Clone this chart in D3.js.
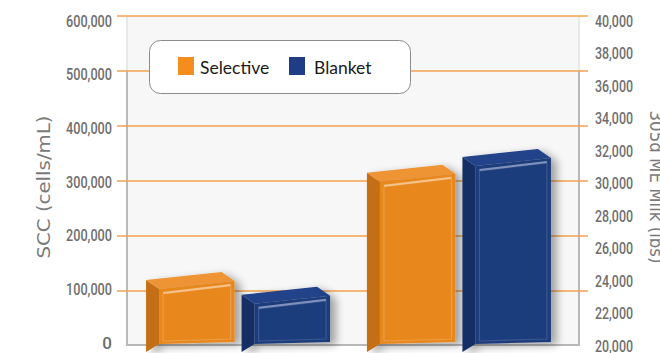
<!DOCTYPE html>
<html><head><meta charset="utf-8">
<script src="https://cdn.jsdelivr.net/npm/d3@7"></script>
<style>html,body{margin:0;padding:0;background:#fff;}svg{display:block;}</style>
</head><body>
<svg id="c" width="660" height="353"></svg>
<script>
const categories = ["SCC", "305d ME Milk"];
const seriesNames = ["Selective", "Blanket"];
const selectiveValues = [111000, 30200];
const blanketValues = [84000, 31150];
const leftTicks = [0, 100000, 200000, 300000, 400000, 500000, 600000];
const rightTicks = [20000, 22000, 24000, 26000, 28000, 30000, 32000, 34000, 36000, 38000, 40000];
const leftTitle = "SCC (cells/mL)";
const rightTitle = "305d ME Milk (lbs)";

const colors = {
  Selective: {front: "#e8871e", side: "#c46e16", top: "#ee9434", hi: "#f7c994", edge: "#f0a65a"},
  Blanket: {front: "#1f3d7b", side: "#152f66", top: "#22428a", hi: "#8a9cc4", edge: "#4a62a0"}
};

const svg = d3.select("#c");
const defs = svg.append("defs");
const f = defs.append("filter").attr("id","sh").attr("x","-30%").attr("y","-30%").attr("width","170%").attr("height","170%");
f.append("feGaussianBlur").attr("in","SourceAlpha").attr("stdDeviation",4).attr("result","b");
f.append("feOffset").attr("in","b").attr("dx",6).attr("dy",3).attr("result","o");
f.append("feComponentTransfer").attr("in","o").attr("result","o2").append("feFuncA").attr("type","linear").attr("slope",0.35);
const fm = f.append("feMerge"); fm.append("feMergeNode").attr("in","o2"); fm.append("feMergeNode").attr("in","SourceGraphic");

const yLeft = d3.scaleLinear().domain([0, 600000]).range([346, 16]);
const yRight = d3.scaleLinear().domain([20000, 40000]).range([346, 16]);
// label placement scales (labels sit slightly inside the gridline span)
const yLeftLab = d3.scaleLinear().domain([0, 600000]).range([342, 20]);
const yRightLab = d3.scaleLinear().domain([20000, 40000]).range([345, 20]);
const wallL = 127, wallR = 579;

// back wall
svg.append("rect").attr("x", wallL).attr("y", 16).attr("width", wallR - wallL).attr("height", 330).attr("fill", "#f7f7f7");
svg.append("line").attr("x1", wallL).attr("x2", wallL).attr("y1", 16).attr("y2", 71).attr("stroke", "#e8e8e8").attr("stroke-width", 2);
svg.append("line").attr("x1", wallR).attr("x2", wallR).attr("y1", 16).attr("y2", 71).attr("stroke", "#e8e8e8").attr("stroke-width", 2);
svg.append("path").attr("d", `M${wallL},71V345H${wallR}V71`).attr("fill", "none").attr("stroke", "#b8b8b8").attr("stroke-width", 2);

// gridlines
svg.append("g").selectAll("line").data(leftTicks.filter(d => d > 0)).join("line")
  .attr("x1", 117).attr("x2", 588).attr("y1", d => yLeft(d)).attr("y2", d => yLeft(d))
  .attr("stroke", "#f4a24e").attr("stroke-width", 1.3);

const tickFont = "Roboto,'Liberation Sans',sans-serif";
const fmt = d3.format(",");
function styleTicks(sel) {
  sel.selectAll("text").attr("font-family", tickFont).attr("font-size", 17).attr("font-weight", 500).attr("fill", "#6e6e6e").attr("dy", "0.36em")
    .each(function(d) {
      const s = fmt(d);
      if (s.length > 1) d3.select(this).attr("textLength", s.length === 7 ? 46 : 38).attr("lengthAdjust", "spacingAndGlyphs");
    });
}
const gl = svg.append("g").attr("transform", "translate(112,0)")
  .call(d3.axisLeft(yLeftLab).tickValues(leftTicks).tickFormat(fmt).tickSize(0).tickPadding(0));
gl.select(".domain").remove();
styleTicks(gl);
const gr = svg.append("g").attr("transform", "translate(595,0)")
  .call(d3.axisRight(yRightLab).tickValues(rightTicks).tickFormat(fmt).tickSize(0).tickPadding(0));
gr.select(".domain").remove();
styleTicks(gr);

// titles
svg.append("text").attr("transform", "translate(50,187) rotate(-90)").attr("text-anchor", "middle")
  .attr("font-family", "'DejaVu Sans',sans-serif").attr("font-size", 17).attr("fill", "#7a7a7a")
  .attr("textLength", 143).attr("lengthAdjust", "spacingAndGlyphs").text(leftTitle);
svg.append("text").attr("transform", "translate(650,187) rotate(90)").attr("text-anchor", "middle")
  .attr("font-family", "'DejaVu Sans',sans-serif").attr("font-size", 17).attr("fill", "#7a7a7a")
  .attr("textLength", 153).attr("lengthAdjust", "spacingAndGlyphs").text(rightTitle);

// bars
const x0 = d3.scaleBand().domain(categories).range([124, 573]).paddingInner(0.167).paddingOuter(0.1);
const x1 = d3.scaleBand().domain(seriesNames).range([0, x0.bandwidth()]).paddingInner(0.073);
const data = [];
categories.forEach((c, i) => {
  const sc = i === 0 ? yLeft : yRight;
  data.push({cat: c, s: "Selective", v: selectiveValues[i], sc});
  data.push({cat: c, s: "Blanket", v: blanketValues[i], sc});
});
const depthX = 13, depthY = 9, slope = 8, base = 344;
data.forEach(d => {
  const slotStart = x0(d.cat) + x1(d.s);
  const fx0 = slotStart + depthX, fx1 = slotStart + x1.bandwidth();
  const yc = d.sc(d.v);
  const yTL = yc + slope / 2, yTR = yc - slope / 2;
  const col = colors[d.s];
  const g = svg.append("g").attr("filter", "url(#sh)");
  g.append("path").attr("d", `M${fx0 - depthX},${yTL - depthY}L${fx0},${yTL}L${fx0},${base}L${fx0 - depthX},${base + 8}Z`).attr("fill", col.side);
  g.append("path").attr("d", `M${fx0},${yTL}L${fx1},${yTR}L${fx1 - depthX},${yTR - depthY}L${fx0 - depthX},${yTL - depthY}Z`).attr("fill", col.top);
  g.append("path").attr("d", `M${fx0},${yTL}L${fx1},${yTR}L${fx1},${base - 2}L${fx0},${base}Z`).attr("fill", col.front);
  g.append("path").attr("d", `M${fx0 + 4},${yTL + 5}L${fx1 - 4},${yTR + 5}L${fx1 - 4},${base - 5}L${fx0 + 4},${base - 3}Z`)
    .attr("fill", "none").attr("stroke", col.edge).attr("stroke-width", 1.2).attr("opacity", 0.7);
  g.append("path").attr("d", `M${fx0 + 4},${yTL + 4}L${fx1 - 4},${yTR + 4}`)
    .attr("stroke", col.hi).attr("stroke-width", 2).attr("opacity", 0.9);
});

// legend
const lg = svg.append("g");
lg.append("rect").attr("x", 149.5).attr("y", 40.5).attr("width", 261).attr("height", 53).attr("rx", 11)
  .attr("fill", "#fff").attr("stroke", "#8c8c8c").attr("stroke-width", 1);
const legX = [178, 289];
const legTextX = [200, 314];
seriesNames.forEach((s, i) => {
  lg.append("rect").attr("x", legX[i]).attr("y", 57).attr("width", 16).attr("height", 18).attr("fill", i === 0 ? "#f58c1e" : "#1f3d85");
  lg.append("text").attr("x", legTextX[i]).attr("y", 74).attr("font-family", "Lato,sans-serif").attr("font-size", 17.5)
    .attr("fill", "#1a1a1a").text(s);
});
</script>
</body></html>
